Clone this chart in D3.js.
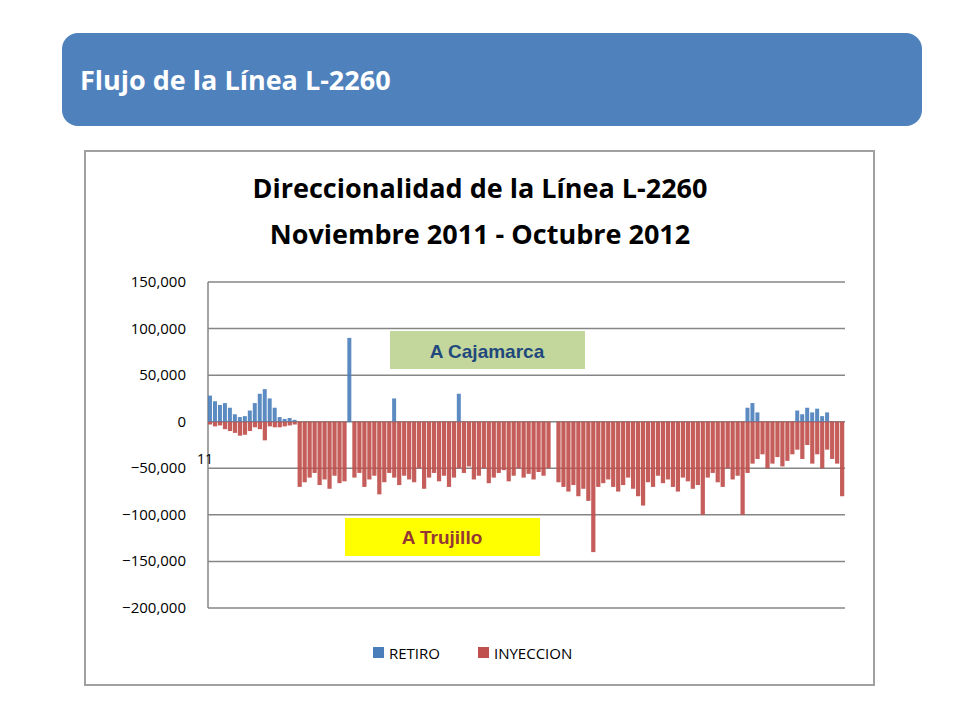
<!DOCTYPE html>
<html><head><meta charset="utf-8">
<script src="https://cdn.jsdelivr.net/npm/d3@7"></script>
<style>body{margin:0;background:#fff}svg{display:block}</style>
</head><body>
<script>
// values in thousands (MW·h scale as shown)
const retiro = [28,22,18,20,15, 8,5,6,12,20, 30,35,25,15, 5,3,4,2,
 0,0,0,0,0,0,0,0,0,0, 90, 0,0,0,0,0,0,0,0,25,0,
 0,0,0,0,0,0,0,0,0,0,0, 30,
 0,0,0,0,0,0,0,0,0,0,0,0,0,0,0,0,0,0, 0,
 0,0,0,0,0,0,0,0,0,0,
 0,0,0,0,0,0,0,0,0,0,0,0,0,0,0,0,0,0,0,0,
 0,0,0,0,0,0,0,0,15,20, 10,0,0,0,0,0,0,0,
 12,8,15,10,14,6,10,0,0,0];
const inyeccion = [-3,-5,-4,-8,-10, -12,-15,-14,-10,-6, -8,-20,-5,-6, -6,-5,-4,-3,
 -70,-65,-60,-55,-68,-62,-72,-58,-66,-64, 0,
 -60,-55,-70,-62,-58,-78,-65,-55,-60,-68,
 -58,-62,-65,-50,-72,-60,-55,-64,-58,-70,-60, -50,
 -55,-48,-62,-58,-50,-66,-60,-55,-52,-64,-58,-50,-60,-56,-62,-54,-58,-50, 0,
 -65,-70,-75,-68,-80,-72,-85,-140,-70,-66,
 -62,-70,-75,-68,-60,-72,-80,-90,-65,-70,-58,-66,-62,-70,-75,-60,-64,-72,-68,-100,
 -60,-55,-65,-70,-50,-62,-58,-100,-55,-45,
 -40,-35,-50,-45,-38,-48,-42,-35,
 -30,-40,-25,-45,-35,-50,-30,-40,-45,-80];
const yTicks = [150000,100000,50000,0,-50000,-100000,-150000,-200000];
const seriesNames = ["RETIRO","INYECCION"];
const colors = ["#4a7ebb","#c0504d"];

const svg = d3.select("body").append("svg").attr("width",960).attr("height",720);
svg.append("rect").attr("x",62).attr("y",33).attr("width",860).attr("height",93).attr("rx",16).attr("fill","#4f81bd");
svg.append("text").attr("x",80).attr("y",90).attr("fill","#fff").attr("font-family","Open Sans, sans-serif")
  .attr("font-weight","bold").attr("font-size",27).text("Flujo de la Línea L-2260");
svg.append("rect").attr("x",85).attr("y",151).attr("width",789).attr("height",534).attr("fill","#fff").attr("stroke","#a0a0a0").attr("stroke-width",2);
const tt = svg.append("text").attr("text-anchor","middle").attr("font-family","Open Sans, sans-serif").attr("font-weight","bold").attr("font-size",27).attr("fill","#000");
tt.append("tspan").attr("x",480).attr("y",198).text("Direccionalidad de la Línea L-2260");
tt.append("tspan").attr("x",480).attr("y",244).text("Noviembre 2011 - Octubre 2012");

const y = d3.scaleLinear().domain([-200000,150000]).range([608,282]);
const x = d3.scaleBand().domain(d3.range(retiro.length)).range([208,845]).padding(0);
const g = svg.append("g");
g.selectAll("line.grid").data(yTicks).join("line").attr("x1",208).attr("x2",845)
  .attr("y1",d=>y(d)).attr("y2",d=>y(d)).attr("stroke","#868686").attr("stroke-width",1.5);
g.append("line").attr("x1",208).attr("x2",208).attr("y1",282).attr("y2",608).attr("stroke","#868686").attr("stroke-width",1.5);
const fmt = d3.format(",");
g.selectAll("text.yt").data(yTicks).join("text").attr("x",186).attr("y",d=>y(d)+5).attr("text-anchor","end")
  .attr("font-family","Open Sans, sans-serif").attr("font-size",15).text(d=>fmt(d));
g.append("text").attr("x",197).attr("y",464).attr("font-family","Open Sans, sans-serif").attr("font-size",14).text("11");

g.selectAll("rect.r").data(retiro).join("rect").attr("x",(d,i)=>x(i)).attr("width",x.bandwidth()*0.8)
  .attr("y",d=>y(d*1000)).attr("height",d=>y(0)-y(d*1000)).attr("fill",colors[0]).attr("opacity",0.9);
g.selectAll("rect.i").data(inyeccion).join("rect").attr("x",(d,i)=>x(i)).attr("width",x.bandwidth()*0.85)
  .attr("y",y(0)).attr("height",d=>y(d*1000)-y(0)).attr("fill",colors[1]).attr("opacity",0.92);

svg.append("rect").attr("x",390).attr("y",331).attr("width",195).attr("height",38).attr("fill","#c3d69b");
svg.append("text").attr("x",487).attr("y",358).attr("text-anchor","middle").attr("font-family","Liberation Sans, Arial").attr("font-weight","bold").attr("font-size",19).attr("fill","#1f497d").text("A Cajamarca");
svg.append("rect").attr("x",345).attr("y",518).attr("width",195).attr("height",38).attr("fill","#ffff00");
svg.append("text").attr("x",442).attr("y",544).attr("text-anchor","middle").attr("font-family","Liberation Sans, Arial").attr("font-weight","bold").attr("font-size",19).attr("fill","#953735").text("A Trujillo");

const lg = svg.append("g");
const lx = [373,478];
seriesNames.forEach((n,i)=>{
  lg.append("rect").attr("x",lx[i]).attr("y",647).attr("width",11).attr("height",11).attr("fill",colors[i]);
  lg.append("text").attr("x",lx[i]+16).attr("y",659).attr("font-family","Open Sans, sans-serif").attr("font-size",15).text(n);
});
</script>
</body></html>
